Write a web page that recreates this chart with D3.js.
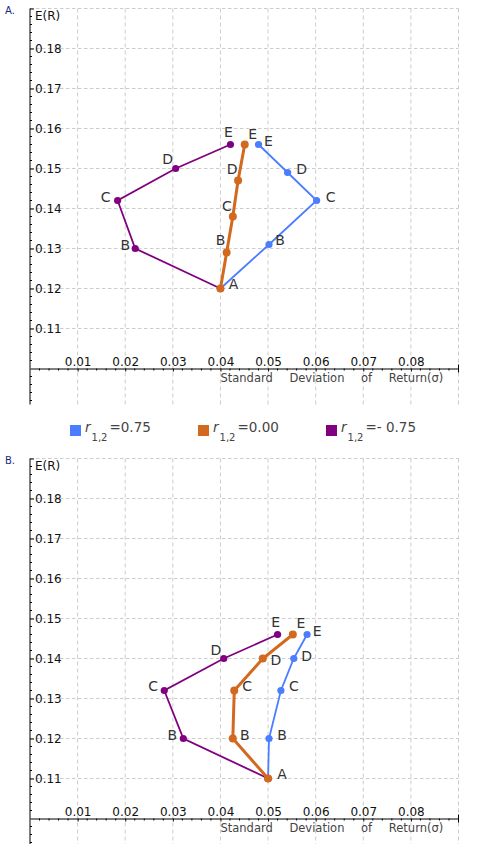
<!DOCTYPE html>
<html>
<head>
<meta charset="utf-8">
<script src="https://cdn.jsdelivr.net/npm/d3@7"></script>
<style>
  body { margin: 0; background: #fff; }
  svg { display: block; font-family: "DejaVu Sans", sans-serif; }
</style>
</head>
<body>
<div id="chart"></div>
<script>
const pointNames = ["A", "B", "C", "D", "E"];
const corrValues = ["=0.75", "=0.00", "=- 0.75"];
const sigmaTicks = [0.01, 0.02, 0.03, 0.04, 0.05, 0.06, 0.07, 0.08];
const returnTicks = [0.11, 0.12, 0.13, 0.14, 0.15, 0.16, 0.17, 0.18];

// panel A: sigma / E(R) for r = 0.75, 0.00, -0.75
const sigmaA_pos = [0.040, 0.0502, 0.0602, 0.0541, 0.0480];
const returnA_pos = [0.120, 0.131, 0.142, 0.149, 0.156];
const sigmaA_zero = [0.040, 0.0413, 0.0426, 0.0437, 0.0451];
const returnA_zero = [0.120, 0.129, 0.138, 0.147, 0.156];
const sigmaA_neg = [0.040, 0.0221, 0.0184, 0.0306, 0.0421];
const returnA_neg = [0.120, 0.130, 0.142, 0.150, 0.156];

// panel B
const sigmaB_pos = [0.050, 0.0502, 0.0527, 0.0554, 0.0582];
const sigmaB_zero = [0.050, 0.0426, 0.0429, 0.0489, 0.0552];
const sigmaB_neg = [0.050, 0.0322, 0.0282, 0.0407, 0.0520];
const returnB = [0.110, 0.120, 0.132, 0.140, 0.146];

const colors = ["#4a7dff", "#d2691e", "#800080"];
const lineWidths = [1.8, 3, 1.8];

// label offsets (dx, dy) from each point, null = no label
const labelPosA = [
  [null, [11, -5], [14, -4], [14, -4], [10, -4]],
  [[13, -5], [-6, -13], [-6, -11], [-6, -12], [8, -11]],
  [null, [-10, -4], [-12, -4], [-8, -10], [-2, -13]]
];
const labelPosB = [
  [null, [13, -4], [13, -5], [13, -3], [10, -4]],
  [[14, -5], [12, -4], [13, -5], [13, 1], [8, -12]],
  [null, [-11, -4], [-11, -5], [-8, -9], [-2, -13]]
];

const panels = [
  { name: "A.", top: 0, sigmas: [sigmaA_pos, sigmaA_zero, sigmaA_neg],
    returns: [returnA_pos, returnA_zero, returnA_neg], labels: labelPosA },
  { name: "B.", top: 450, sigmas: [sigmaB_pos, sigmaB_zero, sigmaB_neg],
    returns: [returnB, returnB, returnB], labels: labelPosB }
];

const width = 503, height = 844;

const svg = d3.select("#chart").append("svg")
    .attr("width", width)
    .attr("height", height);

const x = d3.scaleLinear().domain([0, 0.09]).range([30, 458.5]);
const y = d3.scaleLinear().domain([0.091, 0.19]).range([404.5, 8.5]);

const minorX = d3.range(1, 45).map(i => i * 0.002).filter(v => Math.round(v * 1000) % 10 !== 0);
const minorY = d3.range(46, 95).map(i => i * 0.002).filter(v => Math.round(v * 1000) % 10 !== 0);
const gridY = returnTicks.concat([0.19]);
const gridX = sigmaTicks.concat([0.09]);
const fmt = d3.format(".2f");

function drawPanel(p) {
    const g = svg.append("g").attr("transform", `translate(0,${p.top})`);

    // grid
    g.append("g").selectAll("line").data(gridY).enter().append("line")
        .attr("x1", x(0)).attr("x2", x(0.09))
        .attr("y1", d => y(d)).attr("y2", d => y(d))
        .attr("stroke", "#cccccc").attr("stroke-dasharray", "3.5,2.5");
    g.append("g").selectAll("line").data(gridX).enter().append("line")
        .attr("x1", d => x(d)).attr("x2", d => x(d))
        .attr("y1", y(0.19)).attr("y2", y(0.091))
        .attr("stroke", "#cccccc").attr("stroke-dasharray", "4,3");

    // y axis
    const yAxis = g.append("g").attr("transform", `translate(${x(0)},0)`)
        .call(d3.axisRight(y).tickValues(returnTicks.concat([0.19])).tickSize(4).tickPadding(1)
            .tickFormat(d => d === 0.19 ? "" : fmt(d)));
    yAxis.select(".domain").attr("d", `M0,${y(0.19)}V${y(0.091)}`);
    yAxis.selectAll("text").attr("font-size", 12).attr("font-family", "DejaVu Sans").attr("fill", "#111");
    yAxis.append("g").selectAll("line").data(minorY).enter().append("line")
        .attr("x1", 0).attr("x2", 2)
        .attr("y1", d => y(d)).attr("y2", d => y(d))
        .attr("stroke", "#000");

    g.append("text")
        .attr("x", 35).attr("y", 20)
        .attr("font-size", 12).attr("fill", "#111")
        .text("E(R)");

    // x axis
    const xAxis = g.append("g").attr("transform", `translate(0,${y(0.10)})`)
        .call(d3.axisBottom(x).tickValues(sigmaTicks).tickSize(3).tickSizeOuter(0).tickFormat(fmt));
    xAxis.selectAll("text")
        .attr("y", -3).attr("dy", 0)
        .attr("font-size", 12).attr("font-family", "DejaVu Sans").attr("fill", "#111");
    xAxis.append("g").selectAll("line").data(minorX).enter().append("line")
        .attr("x1", d => x(d)).attr("x2", d => x(d))
        .attr("y1", 0).attr("y2", 2)
        .attr("stroke", "#000");
    xAxis.append("line")
        .attr("x1", x(0.09)).attr("x2", x(0.09))
        .attr("y1", -4).attr("y2", 4)
        .attr("stroke", "#000");

    g.append("text")
        .attr("x", x(0.04)).attr("y", y(0.10) + 13)
        .attr("font-size", 11.5).attr("fill", "#444")
        .style("word-spacing", "13px")
        .text("Standard Deviation of Return(σ)");

    // panel label
    g.append("text")
        .attr("x", 5).attr("y", 13.5)
        .attr("font-size", 10).attr("fill", "#1a2a80")
        .text(p.name);

    // series: blue, purple, orange (orange on top)
    [0, 2, 1].forEach(s => {
        const pts = p.sigmas[s].map((v, i) => ({ sigma: v, ret: p.returns[s][i] }));
        const line = d3.line().x(d => x(d.sigma)).y(d => y(d.ret));

        g.append("path")
            .datum(pts)
            .attr("d", line)
            .attr("fill", "none")
            .attr("stroke", colors[s])
            .attr("stroke-width", lineWidths[s]);

        g.append("g").selectAll("circle").data(pts).enter().append("circle")
            .attr("cx", d => x(d.sigma))
            .attr("cy", d => y(d.ret))
            .attr("r", s === 1 ? 4 : 3.6)
            .attr("fill", colors[s]);
    });

    [0, 1, 2].forEach(s => {
        const pts = p.sigmas[s].map((v, i) => ({ sigma: v, ret: p.returns[s][i], name: pointNames[i], off: p.labels[s][i] }))
            .filter(d => d.off);
        g.append("g").selectAll("text").data(pts).enter().append("text")
            .attr("x", d => x(d.sigma) + d.off[0])
            .attr("y", d => y(d.ret) + d.off[1])
            .attr("dy", "0.36em")
            .attr("text-anchor", "middle")
            .attr("font-size", 14)
            .attr("fill", "#333")
            .text(d => d.name);
    });
}

panels.forEach(drawPanel);

// legend
const legend = svg.append("g").attr("transform", "translate(70,425)");
const item = legend.selectAll("g").data(corrValues).enter().append("g")
    .attr("transform", (d, i) => `translate(${i * 128},0)`);
item.append("rect")
    .attr("width", 11).attr("height", 11)
    .attr("fill", (d, i) => colors[i]);
const lt = item.append("text")
    .attr("x", 15).attr("y", 7)
    .attr("font-size", 13.5).attr("fill", "#444");
lt.append("tspan").attr("font-style", "italic").text("r");
lt.append("tspan").attr("dy", 8.5).attr("dx", 1).attr("font-size", 10).text("1,2");
lt.append("tspan").attr("dy", -8.5).attr("dx", 2).text(d => d);
</script>
</body>
</html>
